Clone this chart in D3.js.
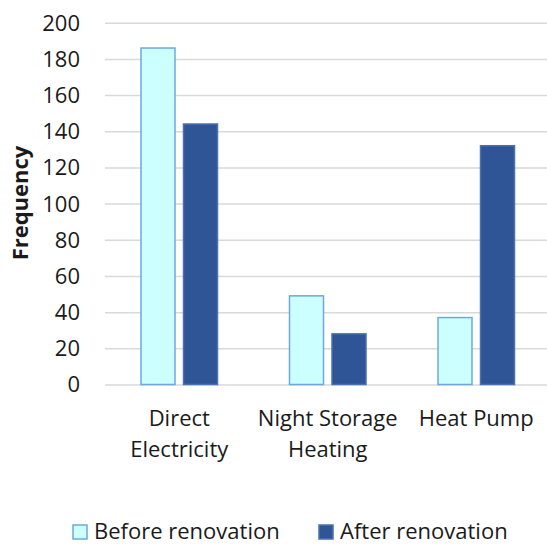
<!DOCTYPE html>
<html><head><meta charset="utf-8">
<script src="https://cdn.jsdelivr.net/npm/d3@7"></script>
<style>body{margin:0;background:#fff}svg{display:block}text{font-family:"Open Sans",sans-serif}</style>
</head><body><svg id="c" width="547" height="545"></svg>
<script>
const categories = [["Direct","Electricity"],["Night Storage","Heating"],["Heat Pump"]];
const seriesNames = ["Before renovation","After renovation"];
const before = [186, 49, 37];
const after = [144, 28, 132];
const yTicks = [0,20,40,60,80,100,120,140,160,180,200];

const FS = 22;
const svg = d3.select("#c");
const M = {l:105, r:550.5, t:22.7, b:384.5};
const x = d3.scaleBand().domain(d3.range(categories.length)).range([M.l, M.r]).paddingInner(0).paddingOuter(0);
const y = d3.scaleLinear().domain([0,200]).range([M.b, M.t]);
const fillC = ["#CCFFFF","#2F5597"];
const strokeC = ["#6FA8DC","#4A72B0"];
const bw = 34, gap = 8.5;

// grid
const yAxis = d3.axisLeft(y).tickValues(yTicks).tickSize(-(M.r-M.l)).tickPadding(25);
const g = svg.append("g").attr("transform",`translate(${M.l},0)`).call(yAxis);
g.select(".domain").remove();
g.selectAll(".tick line").attr("stroke","#D9D9D9").attr("stroke-width",1.5);
g.selectAll(".tick text").attr("font-size",FS).attr("fill","#1a1a1a").attr("font-family","Open Sans, sans-serif").attr("dy","0.34em");

const data = [before, after];
data.forEach((vals, s) => {
  svg.append("g").selectAll("rect").data(vals).join("rect")
    .attr("x",(d,i)=> x(i)+x.bandwidth()/2 + (s===0 ? -(bw+gap/2) : gap/2))
    .attr("y",d=>y(d))
    .attr("width",bw)
    .attr("height",d=>y(0)-y(d))
    .attr("fill",fillC[s])
    .attr("stroke",strokeC[s])
    .attr("stroke-width",1.5);
});

// category labels
const xl = svg.append("g");
categories.forEach((lines,i)=>{
  const t = xl.append("text").attr("text-anchor","middle").attr("font-size",FS).attr("fill","#1a1a1a")
    .attr("x", x(i)+x.bandwidth()/2).attr("y",426);
  lines.forEach((ln,k)=> t.append("tspan").attr("x",x(i)+x.bandwidth()/2).attr("dy",k?31:0).text(ln));
});

// y title
svg.append("text").attr("transform","translate(28,203) rotate(-90)").attr("text-anchor","middle")
  .attr("font-size",FS).attr("font-weight","bold").attr("fill","#1a1a1a").text("Frequency");

// legend
const legX = [73, 319];
seriesNames.forEach((n,s)=>{
  svg.append("rect").attr("x",legX[s]).attr("y",525).attr("width",14).attr("height",14)
    .attr("fill",fillC[s]).attr("stroke",strokeC[s]).attr("stroke-width",1.5);
  svg.append("text").attr("x",legX[s]+21).attr("y",538.5).attr("font-size",FS).attr("fill","#1a1a1a").text(n);
});
</script></body></html>
